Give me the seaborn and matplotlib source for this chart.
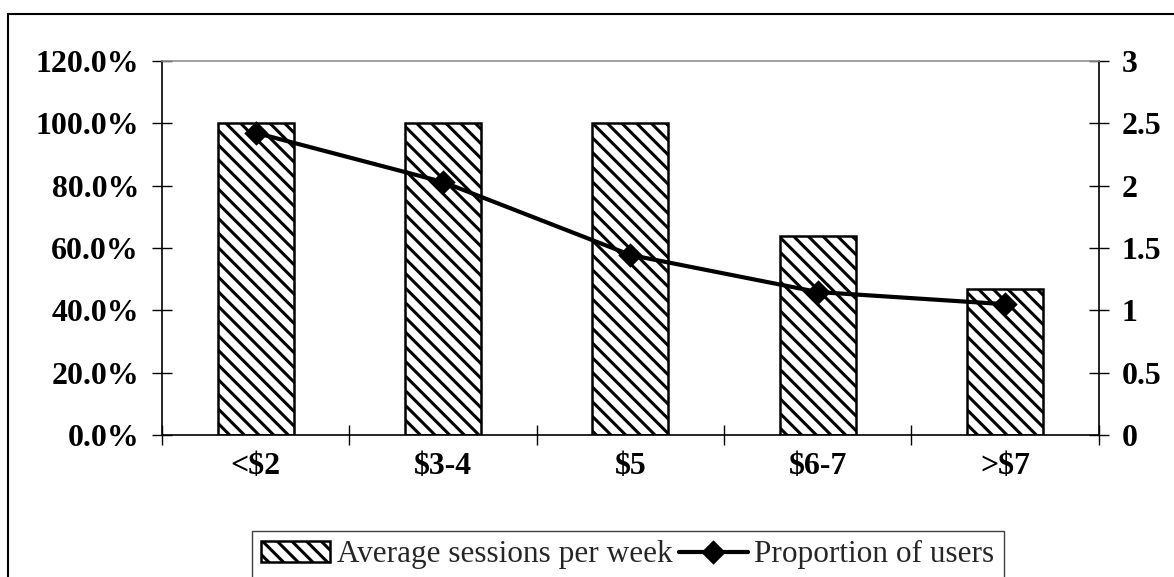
import matplotlib
matplotlib.use("Agg")
import matplotlib.pyplot as plt
import seaborn as sns
from matplotlib.patches import Rectangle
from matplotlib.ticker import FixedLocator, FuncFormatter

# values
price_bands = ["<$2", "$3-4", "$5", "$6-7", ">$7"]
avg_sessions = [2.5, 2.5, 2.5, 1.6, 1.17]          # right axis
prop_users = [97.0, 81.2, 57.8, 45.9, 42.0]        # left axis, percent
pct_ticks = [0, 20, 40, 60, 80, 100, 120]
sess_ticks = [0, 0.5, 1, 1.5, 2, 2.5, 3]

# render at a lower dpi so the hatch spacing matches; sizes below are
# given as if at 100 dpi and scaled by S
DPI = 88
S = 100 / DPI

sns.set_theme(style="white")
plt.rcParams["font.family"] = ["Liberation Serif", "DejaVu Serif"]
plt.rcParams["hatch.linewidth"] = 2.2 * S
plt.rcParams["hatch.color"] = "black"

fig = plt.figure(figsize=(1174 / DPI, 577 / DPI), dpi=DPI)
ax = fig.add_axes([0.138, 0.246, 0.798, 0.648])
ax2 = ax.twinx()

# bars: average sessions (right scale)
sns.barplot(x=price_bands, y=avg_sessions, ax=ax2, color="white", saturation=1,
            edgecolor="black", linewidth=1.8 * S, width=0.405, hatch="\\\\")

# line: proportion of users (left scale)
sns.pointplot(x=price_bands, y=prop_users, ax=ax, color="black", markers="D",
              markersize=10.5 * S, linewidth=3 * S, errorbar=None)

ax.set_zorder(ax2.get_zorder() + 1)
ax.patch.set_visible(False)
ax2.patch.set_visible(False)

ax.set_xlim(-0.5, 4.5)
ax.set_ylim(0, 120)
ax2.set_ylim(0, 3)
ax.set_xlabel("")
ax.set_ylabel("")
ax2.set_ylabel("")

ax.yaxis.set_major_locator(FixedLocator(pct_ticks))
ax.yaxis.set_major_formatter(FuncFormatter(lambda v, p: f"{v:.1f}%"))
ax2.yaxis.set_major_locator(FixedLocator(sess_ticks))
ax2.yaxis.set_major_formatter(FuncFormatter(lambda v, p: f"{v:g}"))

ax.set_xticks(range(len(price_bands)))
ax.set_xticklabels(price_bands)
ax.xaxis.set_minor_locator(FixedLocator([i - 0.5 for i in range(len(price_bands) + 1)]))
ax.tick_params(axis="x", which="major", length=0, pad=12 * S)
ax.tick_params(axis="x", which="minor", bottom=True, direction="inout", length=15 * S,
               width=1 * S, color="black")
ax.tick_params(axis="y", left=True, direction="inout", length=15 * S, width=1 * S,
               color="black", pad=9 * S)
ax2.tick_params(axis="y", right=True, direction="inout", length=15 * S, width=1 * S,
                color="black", pad=9 * S)

for lab in ax.get_xticklabels() + ax.get_yticklabels() + ax2.get_yticklabels():
    lab.set_fontweight("bold")
    lab.set_fontsize(23 * S)
    lab.set_color("black")

for name, sp in ax.spines.items():
    sp.set_color("black")
    sp.set_linewidth(1.2 * S)
ax.spines["right"].set_visible(False)
ax.spines["top"].set_color("#909090")
for name, sp in ax2.spines.items():
    sp.set_visible(name == "right")
ax2.spines["right"].set_color("black")
ax2.spines["right"].set_linewidth(1.2 * S)

# outer chart border
fig.add_artist(Rectangle((8 / 1174, -0.1), 1.2, 1.1 - 14 / 577,
                         transform=fig.transFigure, fill=False,
                         edgecolor="black", linewidth=1.5 * S))

fig.legend([ax2.patches[0], ax.lines[0]],
           ["Average sessions per week", "Proportion of users"],
           loc="upper left", bbox_to_anchor=(252 / 1174, 1 - 531 / 577),
           ncol=2, frameon=True, fancybox=False, edgecolor="#404040",
           framealpha=1, fontsize=22.5 * S, handlelength=2.2, handleheight=0.62,
           handletextpad=0.22, columnspacing=0.2, borderaxespad=0, borderpad=0.3)
fig.legends[0].get_frame().set_linewidth(1.0 * S)

fig.savefig("out.png", dpi=DPI)
